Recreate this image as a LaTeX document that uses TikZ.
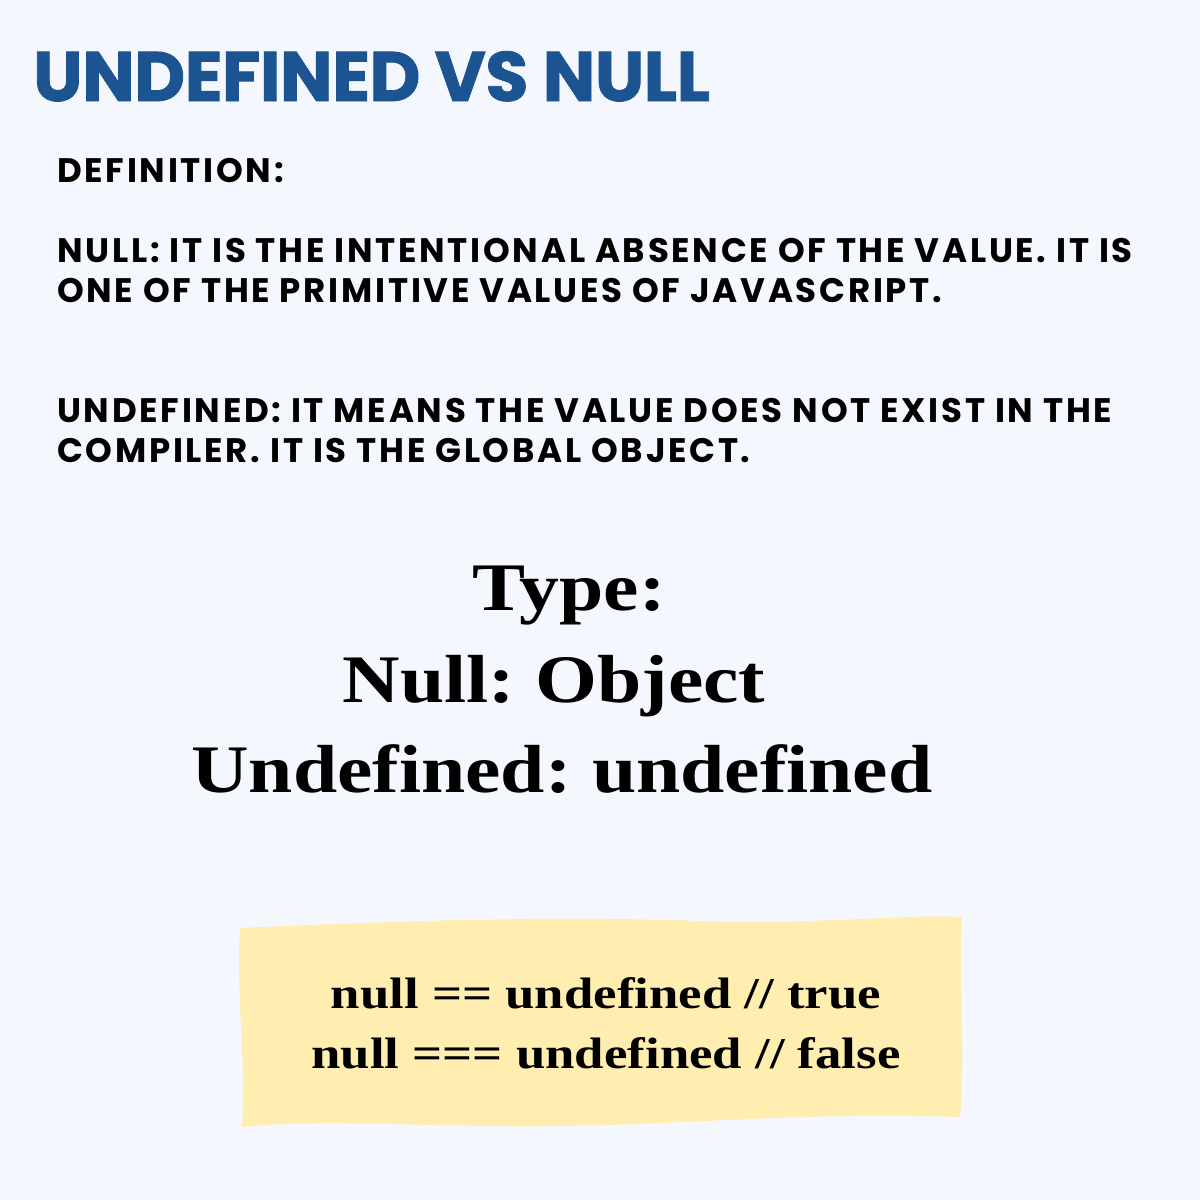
\documentclass[tikz,border=0pt]{standalone}
\usepackage{fontspec}
\usepackage{tikz}
\setmainfont{Liberation Serif}
\newfontfamily\titlefont{Poppins}[LetterSpace=-0.7, FakeBold=1.2]
\newfontfamily\bodyfont{Poppins}[LetterSpace=8]
\newfontfamily\typefont{Liberation Serif}[FakeStretch=1.17, WordSpace=0.7]
\newfontfamily\codefont{Liberation Serif}[FakeStretch=1.2]
\definecolor{bgblue}{RGB}{244,247,254}
\definecolor{titleblue}{RGB}{28,84,146}
\definecolor{noteyellow}{RGB}{255,238,176}
\tikzstyle{heading} = [anchor = base west, inner sep = 0pt, text = titleblue, font = \titlefont\bfseries\fontsize{70}{70}\selectfont]
\tikzstyle{body} = [anchor = base west, inner sep = 0pt, text = black, font = \bodyfont\bfseries\fontsize{34}{34}\selectfont]
\tikzstyle{typeline} = [anchor = base, inner sep = 0pt, text = black, font = \typefont\bfseries\fontsize{68}{68}\selectfont]
\tikzstyle{codeline} = [anchor = base, inner sep = 0pt, text = black, font = \codefont\bfseries\fontsize{44}{44}\selectfont]

\begin{document}
\begin{tikzpicture}[x = 1pt, y = -1pt]
            \useasboundingbox [fill = bgblue] (0, 0) rectangle (1200, 1200);
            % title and definitions
            \node (T) at (33, 101) [heading] {UNDEFINED VS NULL};
            \node (D) at (57, 182) [body] {DEFINITION:};
            \node (N1) at (57, 262) [body] {NULL: IT IS THE INTENTIONAL ABSENCE OF THE VALUE. IT IS};
            \node (N2) at (57, 302) [body] {ONE OF THE PRIMITIVE VALUES OF JAVASCRIPT.};
            \node (U1) at (57, 422) [body] {UNDEFINED: IT MEANS THE VALUE DOES NOT EXIST IN THE};
            \node (U2) at (57, 462) [body] {COMPILER. IT IS THE GLOBAL OBJECT.};
            % type block
            \node (TY) at (569, 610) [typeline] {Type:};
            \node (TN) at (554, 702) [typeline] {Null: Object};
            \node (TU) at (562, 792) [typeline] {Undefined: undefined};
            % yellow note
            \fill [noteyellow] (240, 928) .. controls (420, 920) and (560, 916) .. (700, 921)
                .. controls (820, 925) and (900, 914) .. (962, 917)
                .. controls (958, 980) and (966, 1050) .. (960, 1117)
                .. controls (800, 1112) and (700, 1124) .. (560, 1126)
                .. controls (430, 1128) and (330, 1118) .. (242, 1127)
                .. controls (246, 1060) and (236, 990) .. (240, 928) -- cycle;
            \node (C1) at (606, 1008) [codeline] {null == undefined // true};
            \node (C2) at (606, 1068) [codeline] {null === undefined // false};
        \end{tikzpicture}
\end{document}
